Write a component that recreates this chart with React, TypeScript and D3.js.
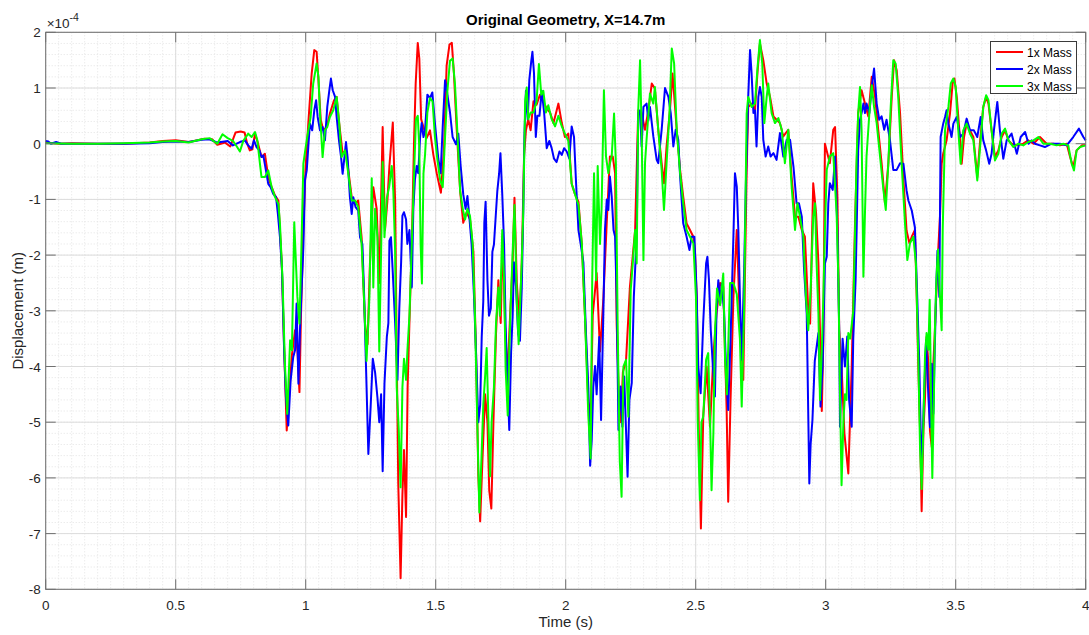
import * as d3 from 'd3'

// displacement values are in units of 1e-4 m, time in s
const mass1x: [number, number][] = [
  [0,0.02],[0.05,0],[0.1,0.01],[0.2,0],[0.3,0],[0.4,0.02],[0.45,0.05],[0.5,0.06],[0.55,0.03],[0.58,0.06],[0.61,0.09],[0.64,0.08],[0.66,-0.02],[0.69,0.02],[0.71,-0.05],[0.73,0.2],[0.75,0.22],[0.765,0.2],[0.775,0],[0.785,-0.12],[0.795,-0.1],[0.805,0.18],[0.815,0.03],[0.83,-0.24],[0.843,-0.18],[0.856,-0.6],[0.869,-0.78],[0.882,-0.93],[0.895,-1.02],[0.901,-1.56],[0.908,-2.16],[0.917,-3.65],[0.927,-5.15],[0.936,-4.55],[0.946,-3.83],[0.959,-3.35],[0.968,-3.7],[0.976,-4.46],[0.982,-3.05],[0.991,-1.56],[0.999,-0.48],[1.01,0.36],[1.023,1.26],[1.033,1.68],[1.042,1.65],[1.049,1.14],[1.058,0.42],[1.068,0.24],[1.081,0.3],[1.093,0.54],[1.109,0.78],[1.119,0.84],[1.129,0.36],[1.142,-0.18],[1.155,-0.12],[1.164,-0.48],[1.177,-0.96],[1.19,-1.08],[1.202,-1.02],[1.215,-1.68],[1.228,-3.23],[1.238,-3.6],[1.247,-2.16],[1.26,-0.78],[1.273,-1.17],[1.283,-2.5],[1.296,0.3],[1.305,-1.55],[1.314,-1.04],[1.322,-0.4],[1.335,0.38],[1.344,-1.04],[1.35,-3.73],[1.356,-6.1],[1.365,-7.8],[1.372,-6.3],[1.378,-5.5],[1.386,-6.7],[1.392,-4.37],[1.399,-3.2],[1.408,-1.8],[1.417,0.1],[1.423,1.08],[1.431,1.81],[1.437,1.53],[1.444,0.44],[1.453,0.3],[1.465,0.1],[1.478,0.24],[1.491,-0.2],[1.504,-0.53],[1.52,-0.88],[1.532,-0.08],[1.542,1.4],[1.553,1.78],[1.562,1.81],[1.57,1.27],[1.581,0.24],[1.594,-0.85],[1.606,-1.42],[1.619,-1.23],[1.632,-1.36],[1.645,-1.94],[1.655,-3.73],[1.664,-5.97],[1.671,-6.78],[1.68,-5.65],[1.69,-4.5],[1.699,-5.0],[1.706,-6.23],[1.714,-6.55],[1.722,-5.0],[1.732,-3.41],[1.741,-2.45],[1.75,-3.22],[1.758,-1.62],[1.767,-3.3],[1.776,-4.2],[1.786,-3.1],[1.796,-2.13],[1.803,-0.97],[1.812,-2.5],[1.822,-3.22],[1.831,-2.13],[1.84,-0.2],[1.847,0.24],[1.856,0.44],[1.865,0.24],[1.876,0.76],[1.888,0.7],[1.901,0.88],[1.914,0.76],[1.927,0.63],[1.94,0.56],[1.953,0.37],[1.972,0.72],[1.985,0.37],[1.997,0.12],[2.01,0.18],[2.023,-0.72],[2.036,-0.91],[2.049,-1.04],[2.062,-1.8],[2.074,-3.08],[2.087,-4.63],[2.096,-4.88],[2.104,-3.08],[2.119,-2.32],[2.132,-3.73],[2.145,-2.77],[2.158,-1.4],[2.17,-0.23],[2.181,-0.23],[2.19,-0.53],[2.196,-3.23],[2.205,-4.6],[2.212,-5.0],[2.22,-4.1],[2.232,-3.9],[2.247,-2.57],[2.267,-1.55],[2.279,0.6],[2.292,0.55],[2.305,0.25],[2.318,0.6],[2.331,1.08],[2.343,0.99],[2.356,0.25],[2.369,-0.35],[2.378,-0.71],[2.388,-0.05],[2.401,0.6],[2.411,1.26],[2.427,0.25],[2.44,-0.47],[2.452,-0.95],[2.465,-1.43],[2.478,-1.55],[2.491,-1.67],[2.497,-1.91],[2.504,-2.75],[2.512,-5.2],[2.52,-6.91],[2.529,-4.9],[2.542,-4.0],[2.555,-5.08],[2.568,-3.8],[2.58,-3.05],[2.594,-2.5],[2.606,-2.57],[2.619,-4.78],[2.625,-6.43],[2.634,-4.6],[2.645,-2.75],[2.658,-1.55],[2.67,-3.2],[2.683,-4.24],[2.696,-0.47],[2.702,0.66],[2.715,0.72],[2.728,0.6],[2.738,1.3],[2.747,1.8],[2.76,1.5],[2.773,1.08],[2.786,0.84],[2.799,0.49],[2.811,0.43],[2.824,0.37],[2.837,0.13],[2.856,0.25],[2.869,-0.6],[2.882,-1.31],[2.895,-1.31],[2.908,-1.55],[2.92,-1.67],[2.933,-2.99],[2.94,-3.23],[2.952,-0.71],[2.963,-1.25],[2.972,-2.15],[2.978,-3.35],[2.985,-4.8],[2.991,-3.5],[2.997,0],[3.016,-0.35],[3.029,0.25],[3.036,0.3],[3.045,-0.95],[3.052,-3.35],[3.061,-4.0],[3.072,-5.2],[3.087,-5.92],[3.1,-4.0],[3.113,-1.37],[3.125,0.55],[3.138,0.96],[3.151,0.72],[3.164,0.49],[3.177,1.2],[3.19,0.84],[3.202,0.25],[3.215,-0.35],[3.228,-1.07],[3.241,-0.35],[3.254,0.84],[3.263,1.5],[3.273,1.32],[3.286,0.55],[3.299,-0.65],[3.311,-1.56],[3.322,-1.79],[3.331,-1.67],[3.343,-1.55],[3.35,-2.75],[3.356,-3.95],[3.363,-5.15],[3.369,-6.6],[3.376,-5.15],[3.382,-4.55],[3.388,-3.47],[3.395,-3.95],[3.401,-5.15],[3.408,-5.45],[3.414,-3.95],[3.42,-3.35],[3.43,-2.16],[3.44,-1.26],[3.446,-0.36],[3.452,-0.18],[3.465,0.06],[3.478,0.54],[3.488,1.08],[3.495,1.17],[3.504,0.84],[3.514,0.24],[3.523,-0.36],[3.532,0.12],[3.542,0.36],[3.555,0.24],[3.568,0.12],[3.583,-0.6],[3.593,0],[3.606,0.66],[3.617,0.84],[3.626,0.72],[3.638,0.24],[3.651,-0.24],[3.664,-0.12],[3.677,0.12],[3.69,0.24],[3.703,0.06],[3.715,0],[3.735,-0.03],[3.76,0],[3.779,0.06],[3.799,0],[3.824,0.12],[3.85,0],[3.876,0],[3.901,-0.03],[3.927,0],[3.94,-0.24],[3.952,-0.42],[3.965,-0.12],[3.985,-0.03],[4.0,-0.03],
]

const mass2x: [number, number][] = [
  [0,0.05],[0.01,0.04],[0.02,0],[0.04,0.03],[0.06,0],[0.1,0],[0.2,0],[0.3,0],[0.4,0.01],[0.45,0.03],[0.5,0.04],[0.55,0.03],[0.6,0.07],[0.63,0.08],[0.66,0.02],[0.7,0.05],[0.72,-0.03],[0.747,0.03],[0.766,0.06],[0.779,-0.03],[0.792,-0.09],[0.801,0.06],[0.811,-0.06],[0.822,-0.12],[0.83,-0.24],[0.837,-0.21],[0.847,-0.48],[0.856,-0.72],[0.865,-0.78],[0.875,-0.9],[0.886,-0.96],[0.893,-1.26],[0.901,-1.68],[0.909,-2.28],[0.917,-3.71],[0.924,-4.55],[0.933,-5.06],[0.942,-4.25],[0.952,-3.83],[0.959,-3.71],[0.965,-2.87],[0.972,-4.31],[0.978,-3.35],[0.984,-2.63],[0.991,-1.86],[0.997,-0.66],[1.004,-0.48],[1.01,-0.06],[1.016,0.36],[1.025,0.24],[1.033,0.6],[1.04,0.78],[1.046,0.48],[1.055,0.24],[1.065,0.3],[1.074,0.06],[1.083,0.66],[1.091,0.96],[1.097,1.17],[1.104,0.96],[1.113,0.84],[1.119,0.48],[1.128,0.06],[1.136,-0.24],[1.142,-0.54],[1.149,-0.24],[1.155,0.03],[1.161,-0.24],[1.17,-0.96],[1.177,-1.26],[1.183,-0.96],[1.192,-1.14],[1.202,-1.2],[1.209,-1.68],[1.218,-1.8],[1.225,-2.75],[1.232,-4.01],[1.241,-5.57],[1.25,-4.7],[1.258,-3.86],[1.267,-4.11],[1.276,-4.56],[1.283,-5.0],[1.29,-4.5],[1.296,-5.88],[1.303,-4.3],[1.312,-3.47],[1.318,-3.22],[1.322,-1.74],[1.328,-1.68],[1.335,-2.32],[1.344,-3.22],[1.353,-4.24],[1.36,-2.96],[1.367,-2.13],[1.372,-1.29],[1.378,-1.23],[1.386,-1.36],[1.391,-1.8],[1.399,-1.55],[1.408,-2.58],[1.414,-1.17],[1.42,-0.65],[1.427,-0.4],[1.433,-0.53],[1.44,0.12],[1.446,0.37],[1.453,0.12],[1.459,0.24],[1.468,0.88],[1.478,0.82],[1.487,0.92],[1.497,0.37],[1.51,-0.27],[1.519,-0.53],[1.527,0.31],[1.536,1.14],[1.545,0.88],[1.555,0.56],[1.565,0.12],[1.578,-0.01],[1.587,0.18],[1.596,-0.4],[1.606,-0.91],[1.615,-1.17],[1.622,-0.94],[1.629,-1.29],[1.638,-1.8],[1.647,-2.7],[1.655,-3.73],[1.664,-5.0],[1.671,-4.69],[1.677,-3.47],[1.683,-2.83],[1.687,-1.42],[1.692,-1.04],[1.699,-2.45],[1.705,-3.09],[1.712,-2.96],[1.718,-1.94],[1.724,-1.81],[1.731,-1.29],[1.737,-0.85],[1.744,-0.53],[1.749,-0.17],[1.756,-0.91],[1.763,-1.81],[1.769,-3.28],[1.777,-4.37],[1.783,-5.14],[1.79,-3.73],[1.796,-3.09],[1.801,-2.13],[1.809,-2.58],[1.817,-3.41],[1.824,-3.54],[1.831,-2.58],[1.837,-1.17],[1.841,0.12],[1.847,0.95],[1.854,0.44],[1.86,1.14],[1.867,1.46],[1.872,1.65],[1.878,1.27],[1.885,0.12],[1.891,0.5],[1.899,0.5],[1.908,0.95],[1.917,0.56],[1.927,-0.08],[1.937,0.05],[1.946,-0.08],[1.955,-0.27],[1.965,-0.33],[1.976,-0.14],[1.985,-0.2],[1.994,-0.08],[2.004,-0.14],[2.014,-0.27],[2.023,0.31],[2.032,0.12],[2.04,-0.72],[2.049,-1.55],[2.058,-1.81],[2.068,-2.13],[2.078,-3.41],[2.087,-4.37],[2.094,-5.78],[2.1,-5.33],[2.106,-4.37],[2.113,-3.99],[2.119,-4.5],[2.129,-3.47],[2.136,-4.96],[2.145,-3.0],[2.151,-1.55],[2.158,-1.0],[2.164,-1.19],[2.17,-0.59],[2.177,-0.95],[2.184,-1.55],[2.19,-1.67],[2.196,-2.75],[2.203,-5.14],[2.211,-4.36],[2.218,-5.08],[2.225,-4.18],[2.232,-5.14],[2.238,-5.98],[2.245,-4.6],[2.254,-4.3],[2.262,-2.75],[2.273,-1.67],[2.279,0.55],[2.286,0.6],[2.292,-0.05],[2.299,0.66],[2.311,0.72],[2.318,0.42],[2.324,0.66],[2.337,0.13],[2.35,-0.29],[2.356,-0.35],[2.369,0.25],[2.382,1.0],[2.395,0.84],[2.404,0.55],[2.414,-0.05],[2.423,0.25],[2.433,0.07],[2.44,-0.59],[2.452,-1.43],[2.465,-1.67],[2.476,-1.91],[2.484,-1.67],[2.495,-1.67],[2.504,-2.75],[2.51,-4.0],[2.519,-4.48],[2.529,-3.2],[2.54,-2.15],[2.545,-2.03],[2.551,-2.45],[2.558,-3.35],[2.566,-4.0],[2.574,-4.54],[2.58,-3.0],[2.587,-2.45],[2.594,-2.87],[2.6,-2.51],[2.609,-3.0],[2.617,-4.1],[2.625,-4.78],[2.634,-3.5],[2.645,-1.67],[2.651,-0.53],[2.658,-0.77],[2.664,-1.55],[2.67,-2.75],[2.677,-3.88],[2.686,-2.33],[2.693,-0.71],[2.702,0.84],[2.709,1.68],[2.715,1.26],[2.722,0.55],[2.728,0.6],[2.734,-0.05],[2.741,0.84],[2.747,1.02],[2.754,0.84],[2.76,0.07],[2.769,-0.23],[2.779,-0.05],[2.788,-0.23],[2.799,-0.17],[2.811,-0.29],[2.824,0.19],[2.837,-0.23],[2.85,0.07],[2.863,0.07],[2.876,-0.41],[2.888,-1.07],[2.897,-1.07],[2.908,-1.31],[2.917,-2.27],[2.927,-3.05],[2.937,-6.1],[2.942,-5.4],[2.949,-4.96],[2.958,-3.9],[2.972,-3.4],[2.98,-4.72],[2.988,-4.0],[2.997,-2.15],[3.004,-2.03],[3.01,-1.07],[3.016,-0.71],[3.027,-0.83],[3.036,-0.23],[3.045,-1.55],[3.052,-3.35],[3.055,-5.08],[3.065,-3.5],[3.074,-4.0],[3.083,-3.46],[3.09,-4.6],[3.1,-5.08],[3.106,-3.5],[3.115,-2.45],[3.119,-1.55],[3.125,-0.11],[3.132,0.43],[3.138,0.55],[3.145,0.72],[3.151,0.55],[3.157,0.72],[3.168,0.55],[3.177,1.02],[3.186,1.35],[3.196,0.72],[3.206,0.43],[3.215,0.49],[3.225,0.25],[3.234,0.43],[3.247,0.07],[3.26,-0.47],[3.273,-0.47],[3.286,-0.35],[3.299,-0.36],[3.311,-0.84],[3.318,-1.02],[3.331,-1.2],[3.343,-1.5],[3.352,-2.75],[3.36,-3.95],[3.365,-5.1],[3.368,-6.0],[3.378,-4.55],[3.386,-3.53],[3.395,-4.55],[3.401,-5.09],[3.408,-3.95],[3.414,-4.85],[3.424,-2.75],[3.43,-1.92],[3.437,-2.75],[3.442,0.12],[3.452,0.36],[3.459,0.48],[3.465,0.6],[3.472,0.36],[3.478,0.24],[3.484,0.12],[3.491,0.36],[3.504,0.48],[3.517,0.12],[3.529,0.18],[3.542,0.45],[3.555,0.24],[3.57,0.24],[3.583,0.12],[3.596,0.48],[3.606,0.06],[3.617,-0.12],[3.629,-0.36],[3.638,-0.18],[3.647,0.24],[3.66,0.75],[3.67,0.24],[3.683,-0.27],[3.696,0.06],[3.715,0.18],[3.735,-0.18],[3.75,0.12],[3.767,0.21],[3.78,0],[3.792,0.06],[3.805,0],[3.824,-0.03],[3.843,-0.06],[3.869,0],[3.901,0],[3.927,-0.03],[3.952,0.12],[3.974,0.27],[3.991,0.12],[4.0,0.06],
]

const mass3x: [number, number][] = [
  [0,0.01],[0.1,0],[0.2,0],[0.3,0.01],[0.4,0.02],[0.45,0.04],[0.5,0.05],[0.55,0.02],[0.6,0.08],[0.63,0.1],[0.66,0],[0.68,0.17],[0.7,0.1],[0.72,0.05],[0.735,-0.05],[0.747,-0.14],[0.76,0.05],[0.779,0.18],[0.792,0.12],[0.805,0.21],[0.814,0.06],[0.824,-0.36],[0.83,-0.6],[0.843,-0.6],[0.856,-0.48],[0.869,-0.78],[0.882,-0.96],[0.895,-1.08],[0.901,-1.44],[0.911,-2.46],[0.92,-3.95],[0.929,-4.85],[0.94,-3.53],[0.947,-3.71],[0.956,-1.41],[0.963,-2.2],[0.968,-2.75],[0.976,-3.23],[0.982,-2.16],[0.991,-0.36],[1.0,-0.06],[1.01,0.24],[1.019,0.48],[1.029,1.08],[1.042,1.44],[1.049,1.2],[1.055,0.54],[1.065,-0.24],[1.074,0.24],[1.083,0.3],[1.093,0.48],[1.106,0.6],[1.119,0.84],[1.129,0.36],[1.138,-0.24],[1.151,-0.12],[1.164,-0.54],[1.177,-1.02],[1.19,-1.02],[1.202,-1.14],[1.215,-1.8],[1.224,-2.75],[1.234,-3.9],[1.245,-2.75],[1.254,-0.62],[1.26,-2.58],[1.267,-1.17],[1.276,-1.68],[1.283,-3.73],[1.29,-1.94],[1.296,-0.33],[1.303,-1.68],[1.312,-0.97],[1.321,-0.78],[1.331,-0.4],[1.337,-0.85],[1.344,-1.94],[1.35,-4.37],[1.358,-5.14],[1.365,-6.17],[1.372,-4.37],[1.378,-3.86],[1.386,-4.24],[1.391,-3.73],[1.399,-3.09],[1.408,-1.81],[1.417,-0.53],[1.424,0.44],[1.431,0.5],[1.437,-0.08],[1.442,-1.81],[1.447,-2.51],[1.453,-0.53],[1.459,-0.2],[1.468,0.56],[1.478,0.82],[1.488,0.76],[1.497,0.12],[1.506,-0.27],[1.517,-0.65],[1.527,-0.78],[1.536,0.12],[1.545,0.95],[1.555,1.49],[1.565,1.53],[1.574,1.08],[1.583,0.24],[1.594,-0.85],[1.604,-1.17],[1.613,-1.36],[1.622,-1.17],[1.632,-1.3],[1.642,-1.8],[1.651,-3.09],[1.66,-5.0],[1.668,-6.62],[1.676,-5.65],[1.683,-4.69],[1.69,-4.18],[1.696,-3.67],[1.703,-5.0],[1.709,-5.97],[1.715,-5.0],[1.724,-4.37],[1.732,-3.22],[1.741,-2.58],[1.747,-3.09],[1.756,-1.55],[1.763,-2.45],[1.769,-4.05],[1.777,-4.88],[1.783,-3.73],[1.788,-2.96],[1.796,-1.94],[1.803,-1.1],[1.812,-2.83],[1.819,-3.6],[1.824,-2.96],[1.831,-2.13],[1.837,-1.17],[1.844,0.76],[1.85,1.01],[1.856,0.44],[1.865,0.56],[1.876,0.56],[1.888,0.76],[1.897,1.43],[1.906,0.88],[1.914,0.95],[1.924,0.56],[1.933,0.69],[1.946,0.44],[1.959,0.31],[1.972,0.5],[1.985,0.31],[1.997,0.18],[2.01,0.05],[2.023,-0.72],[2.036,-0.91],[2.049,-1.1],[2.062,-1.8],[2.074,-3.09],[2.087,-4.88],[2.096,-5.65],[2.102,-2.45],[2.109,-0.53],[2.117,-2.45],[2.123,-0.4],[2.132,-1.8],[2.138,-1.17],[2.147,0.96],[2.155,-0.23],[2.164,-0.53],[2.17,-0.35],[2.177,-0.23],[2.186,0.54],[2.193,-0.35],[2.2,-3.35],[2.208,-5.7],[2.215,-6.34],[2.222,-4.0],[2.232,-3.88],[2.241,-4.9],[2.25,-2.63],[2.258,-2.15],[2.267,-1.55],[2.273,-2.15],[2.279,0.6],[2.286,1.5],[2.292,0.25],[2.299,-2.09],[2.305,-0.35],[2.311,0.07],[2.324,0.9],[2.337,0.72],[2.343,1.02],[2.356,0.25],[2.369,-0.47],[2.378,-1.19],[2.388,-0.35],[2.399,0.55],[2.408,1.71],[2.417,1.44],[2.427,0.25],[2.44,-0.53],[2.452,-1.07],[2.465,-1.55],[2.478,-1.67],[2.491,-1.79],[2.501,-2.75],[2.508,-5.0],[2.516,-6.4],[2.522,-5.0],[2.529,-4.9],[2.54,-3.88],[2.548,-3.76],[2.555,-4.9],[2.561,-6.22],[2.568,-5.2],[2.574,-3.4],[2.582,-2.6],[2.594,-2.9],[2.606,-2.33],[2.613,-3.9],[2.62,-4.5],[2.632,-2.5],[2.645,-2.5],[2.658,-2.7],[2.67,-3.5],[2.677,-4.72],[2.686,-3.0],[2.696,0.54],[2.702,0.84],[2.715,0.66],[2.728,0.72],[2.738,1.38],[2.747,1.86],[2.756,1.44],[2.764,0.37],[2.773,0.84],[2.779,1.08],[2.792,0.55],[2.805,0.37],[2.818,0.46],[2.831,0.25],[2.843,-0.35],[2.856,0.25],[2.869,-0.77],[2.882,-1.55],[2.891,-1.07],[2.901,-1.31],[2.914,-1.67],[2.924,-2.75],[2.933,-3.35],[2.942,-2.63],[2.952,-1.31],[2.959,-1.07],[2.965,-2.15],[2.972,-3.05],[2.978,-4.6],[2.985,-3.7],[2.991,-2.75],[2.997,-1.55],[3.004,-0.47],[3.016,-0.23],[3.029,-0.17],[3.042,-1.25],[3.049,-2.51],[3.055,-4.5],[3.061,-6.13],[3.068,-5.0],[3.074,-4.5],[3.08,-4.6],[3.087,-3.4],[3.094,-3.5],[3.106,-3.0],[3.113,-1.55],[3.119,-0.23],[3.125,0.55],[3.132,1.02],[3.138,0.25],[3.145,-2.39],[3.151,-1.25],[3.157,-0.23],[3.168,0.55],[3.177,1.05],[3.186,0.66],[3.196,0.37],[3.209,-0.23],[3.222,-0.83],[3.231,-1.19],[3.241,-0.35],[3.25,0.66],[3.26,1.5],[3.269,1.44],[3.279,0.84],[3.292,-0.35],[3.305,-1.43],[3.314,-2.09],[3.324,-1.79],[3.337,-1.67],[3.347,-2.15],[3.356,-3.8],[3.363,-5.5],[3.369,-6.2],[3.376,-5.0],[3.382,-3.8],[3.388,-3.4],[3.395,-3.7],[3.4,-2.8],[3.405,-4.5],[3.41,-6.0],[3.416,-4.6],[3.42,-3.35],[3.426,-2.4],[3.432,-1.9],[3.438,-2.6],[3.446,-3.35],[3.45,-1.56],[3.459,0.24],[3.472,0.66],[3.481,1.08],[3.491,1.17],[3.5,1.02],[3.51,0.24],[3.519,-0.36],[3.529,0.24],[3.542,0.36],[3.555,0.18],[3.568,0.06],[3.583,-0.66],[3.596,0.06],[3.606,0.66],[3.617,0.87],[3.626,0.78],[3.638,0.24],[3.651,-0.3],[3.664,-0.18],[3.677,0.18],[3.69,0.27],[3.703,0.06],[3.722,-0.06],[3.741,0],[3.76,-0.03],[3.779,0.03],[3.799,0.06],[3.818,0.12],[3.837,0],[3.863,0],[3.888,-0.03],[3.914,0],[3.933,-0.03],[3.946,-0.36],[3.955,-0.48],[3.965,-0.12],[3.978,-0.06],[4.0,-0.03],
]

const seriesNames = ['1x Mass', '2x Mass', '3x Mass']
const seriesColors = ['#ff0000', '#0000ff', '#00ff00']
const xTickValues = [0, 0.5, 1, 1.5, 2, 2.5, 3, 3.5, 4]
const yTickValues = [-8, -7, -6, -5, -4, -3, -2, -1, 0, 1, 2]

const W = 1089
const H = 635
const left = 45.7
const right = 1085.7
const top = 32.3
const bottom = 589.3
const font = '"Liberation Sans", Arial, Helvetica, sans-serif'

export default function App() {
  const x = d3.scaleLinear().domain([0, 4]).range([left, right])
  const y = d3.scaleLinear().domain([-8, 2]).range([bottom, top])

  const minorX = d3.range(0, 81).map(i => i * 0.05)
  const minorY = d3.range(0, 51).map(i => -8 + i * 0.2)

  const line = d3.line<[number, number]>()
    .x(d => x(d[0]))
    .y(d => y(d[1]))

  const allSeries = [mass1x, mass2x, mass3x]
  const axisColor = '#707070'
  const textColor = '#262626'

  return (
    <svg width={W} height={H} style={{ position: 'absolute', left: 0, top: 0, background: '#fff' }}>
      <rect x={left} y={top} width={right - left} height={bottom - top} fill="#fff" />
      {/* minor grid */}
      {minorX.map((v, i) => (
        <line key={'mx' + i} x1={x(v)} x2={x(v)} y1={top} y2={bottom}
          stroke="#e3e3e3" strokeWidth={1} strokeDasharray="1,2" />
      ))}
      {minorY.map((v, i) => (
        <line key={'my' + i} x1={left} x2={right} y1={y(v)} y2={y(v)}
          stroke="#e3e3e3" strokeWidth={1} strokeDasharray="1,2" />
      ))}
      {/* major grid */}
      {xTickValues.map(v => (
        <line key={'gx' + v} x1={x(v)} x2={x(v)} y1={top} y2={bottom} stroke="#dcdcdc" strokeWidth={1} />
      ))}
      {yTickValues.map(v => (
        <line key={'gy' + v} x1={left} x2={right} y1={y(v)} y2={y(v)} stroke="#dcdcdc" strokeWidth={1} />
      ))}

      {/* data */}
      {allSeries.map((s, i) => (
        <path key={'s' + i} d={line(s) ?? ''} fill="none" stroke={seriesColors[i]}
          strokeWidth={2} strokeLinejoin="round" />
      ))}

      {/* box and ticks */}
      <rect x={left} y={top} width={right - left} height={bottom - top} fill="none" stroke={axisColor} strokeWidth={1} />
      {xTickValues.map(v => (
        <g key={'tx' + v}>
          <line x1={x(v)} x2={x(v)} y1={bottom} y2={bottom - 10} stroke={axisColor} />
          <line x1={x(v)} x2={x(v)} y1={top} y2={top + 10} stroke={axisColor} />
          <text x={x(v)} y={bottom + 21} textAnchor="middle" fontSize={13.5} fontFamily={font} fill={textColor}>{v}</text>
        </g>
      ))}
      {yTickValues.map(v => (
        <g key={'ty' + v}>
          <line x1={left} x2={left + 10} y1={y(v)} y2={y(v)} stroke={axisColor} />
          <line x1={right} x2={right - 10} y1={y(v)} y2={y(v)} stroke={axisColor} />
          <text x={left - 5} y={y(v) + 5} textAnchor="end" fontSize={13.5} fontFamily={font} fill={textColor}>{v}</text>
        </g>
      ))}

      {/* exponent */}
      <text x={left + 1} y={28} fontSize={13.5} fontFamily={font} fill={textColor}>
        ×10<tspan dy={-7} fontSize={10.5}>-4</tspan>
      </text>

      {/* title and labels */}
      <text x={(left + right) / 2} y={25} textAnchor="middle" fontSize={15} fontWeight="bold" fontFamily={font} fill="#000">
        Original Geometry, X=14.7m
      </text>
      <text x={(left + right) / 2} y={627} textAnchor="middle" fontSize={15} fontFamily={font} fill={textColor}>Time (s)</text>
      <text transform={`translate(23,${(top + bottom) / 2}) rotate(-90)`} textAnchor="middle" fontSize={15} fontFamily={font} fill={textColor}>
        Displacement (m)
      </text>

      {/* legend */}
      <g>
        <rect x={990.5} y={41.5} width={86} height={52} fill="#fff" stroke="#3a3a3a" strokeWidth={1} />
        {seriesNames.map((n, i) => (
          <g key={'lg' + i}>
            <line x1={996} x2={1023} y1={52 + i * 17} y2={52 + i * 17} stroke={seriesColors[i]} strokeWidth={2} />
            <text x={1027} y={56.5 + i * 17} fontSize={12} fontFamily={font} fill="#000">{n}</text>
          </g>
        ))}
      </g>
    </svg>
  )
}
